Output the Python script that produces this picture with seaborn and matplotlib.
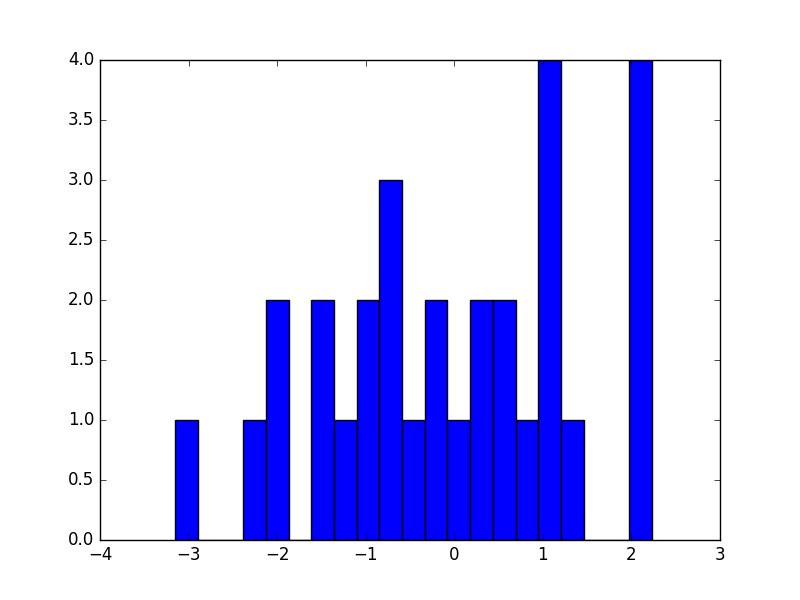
import numpy as np
import matplotlib
matplotlib.use("Agg")
import matplotlib.pyplot as plt
import seaborn as sns

# histogram counts per bin (21 equal bins)
counts = [1, 0, 0, 1, 2, 0, 2, 1, 2, 3, 1, 2, 1, 2, 2, 1, 4, 1, 0, 0, 4]
bin_lo = -3.153
bin_hi = 2.229

plt.style.use("classic")

n_bins = len(counts)
width = (bin_hi - bin_lo) / n_bins
centers = bin_lo + width * (np.arange(n_bins) + 0.5)

fig, ax = plt.subplots(figsize=(8, 6))
sns.histplot(x=centers, weights=counts, bins=n_bins, binrange=(bin_lo, bin_hi),
             color="b", edgecolor="k", linewidth=1, alpha=1, ax=ax)

ax.set_xlim(-4, 3)
ax.set_ylim(0, 4)
ax.set_xlabel("")
ax.set_ylabel("")

plt.savefig("out.png", dpi=100)
